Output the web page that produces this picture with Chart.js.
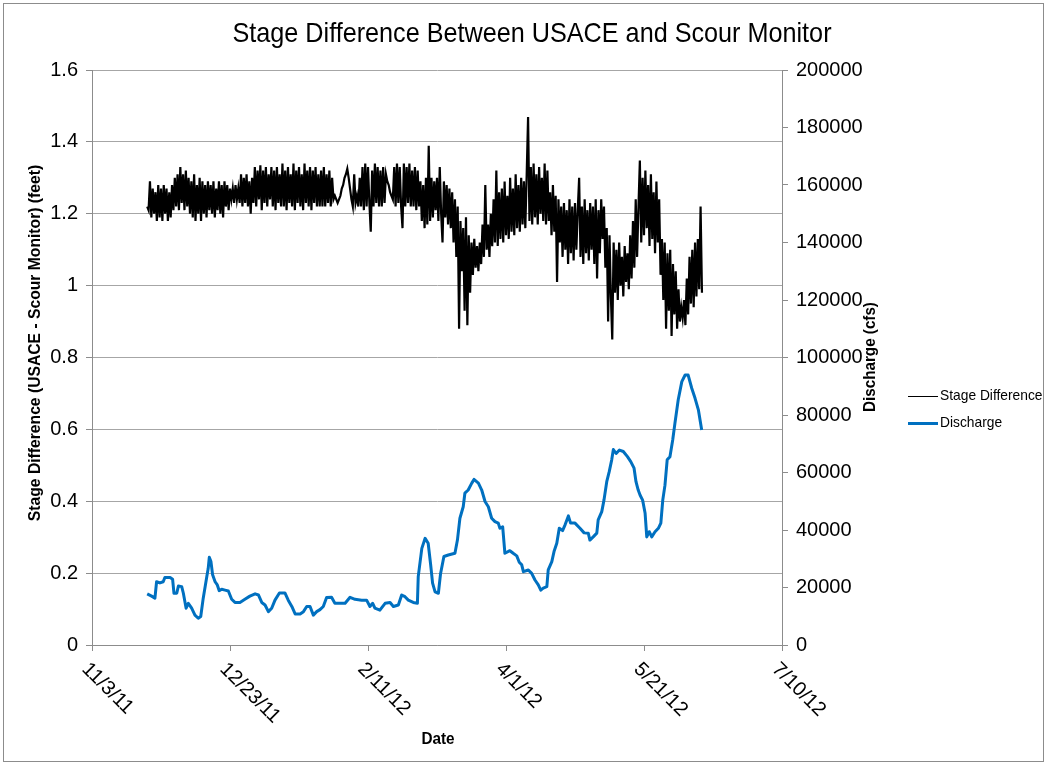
<!DOCTYPE html>
<html>
<head>
<meta charset="utf-8">
<script src="https://cdn.jsdelivr.net/npm/chart.js@4.4.0/dist/chart.umd.min.js"></script>
<style>
  html, body { margin:0; padding:0; background:#fff; }
  #wrap { width:1047px; height:765px; }
</style>
</head>
<body>
<div id="wrap"><canvas id="chart" width="1047" height="765"></canvas></div>
<script>
const TITLE = 'Stage Difference Between USACE and Scour Monitor';
const Y_LEFT_TITLE = 'Stage Difference (USACE - Scour Monitor) (feet)';
const Y_RIGHT_TITLE = 'Discharge (cfs)';
const X_TITLE = 'Date';
const SERIES_NAMES = ['Stage Difference', 'Discharge'];

// x axis = days after 11/3/11
const xTickDays = [0, 50, 100, 150, 200, 250];
const xTickLabels = ['11/3/11', '12/23/11', '2/11/12', '4/1/12', '5/21/12', '7/10/12'];

// stage difference, one reading every half day from day 20
const stageStartDay = 20;
const stageStepDay = 0.5;
const stageFeet = [
  1.22,1.21,1.29,1.19,1.27,1.20,1.26,1.18,1.28,1.19, 1.27,1.18,1.28,1.20,1.27,1.18,1.26,1.19,1.28,1.21,
  1.30,1.22,1.31,1.21,1.33,1.23,1.31,1.21,1.32,1.22, 1.30,1.20,1.29,1.19,1.31,1.18,1.28,1.20,1.30,1.18,
  1.29,1.20,1.28,1.19,1.29,1.21,1.28,1.20,1.29,1.19, 1.27,1.21,1.29,1.20,1.28,1.19,1.29,1.22,1.28,1.21,
  1.27,1.24,1.27,1.23,1.28,1.24,1.27,1.23,1.31,1.22, 1.30,1.23,1.31,1.22,1.29,1.20,1.30,1.23,1.33,1.22,
  1.32,1.24,1.335,1.21,1.32,1.23,1.33,1.22,1.31,1.24, 1.33,1.22,1.32,1.21,1.33,1.23,1.31,1.22,1.34,1.22,
  1.32,1.21,1.33,1.23,1.31,1.22,1.34,1.21,1.32,1.23, 1.33,1.22,1.31,1.21,1.34,1.23,1.32,1.22,1.33,1.21,
  1.32,1.23,1.33,1.22,1.31,1.22,1.32,1.22,1.33,1.22, 1.31,1.23,1.32,1.22,1.30,1.24,1.25,1.24,1.23,1.24,
  1.25,1.27,1.28,1.30,1.31,1.325,1.30,1.27,1.24,1.22, 1.31,1.23,1.25,1.22,1.30,1.22,1.33,1.21,1.34,1.22,
  1.33,1.23,1.15,1.32,1.22,1.34,1.23,1.33,1.22,1.32, 1.22,1.33,1.23,1.31,1.29,1.28,1.26,1.25,1.24,1.33,
  1.22,1.34,1.23,1.33,1.22,1.16,1.34,1.22,1.33,1.23, 1.34,1.22,1.32,1.22,1.33,1.21,1.32,1.22,1.29,1.18,
  1.28,1.16,1.30,1.17,1.389,1.18,1.30,1.19,1.29,1.21, 1.30,1.18,1.33,1.20,1.12,1.29,1.19,1.28,1.17,1.27,
  1.16,1.26,1.12,1.24,1.08,1.22,0.88,1.18,1.04,1.16, 0.93,1.19,0.89,1.14,0.98,1.12,1.03,1.13,1.05,1.11,
  1.04,1.12,1.06,1.17,1.08,1.28,1.10,1.17,1.08,1.20, 1.11,1.24,1.12,1.32,1.11,1.26,1.13,1.27,1.12,1.29,
  1.14,1.25,1.13,1.30,1.15,1.27,1.14,1.31,1.16,1.28, 1.15,1.30,1.17,1.29,1.16,1.31,1.469,1.18,1.33,1.17,
  1.34,1.19,1.31,1.17,1.33,1.20,1.30,1.18,1.34,1.17, 1.32,1.18,1.26,1.14,1.28,1.15,1.25,1.01,1.24,1.12,
  1.22,1.08,1.23,1.10,1.21,1.06,1.24,1.09,1.22,1.07, 1.23,1.10,1.21,1.30,1.08,1.22,1.06,1.24,1.09,1.21,
  1.07,1.23,1.10,1.22,1.06,1.24,1.02,1.21,1.09,1.24, 1.13,1.22,1.05,1.16,0.90,1.14,0.97,0.85,1.12,0.98,
  1.10,0.96,1.12,1.00,1.08,0.97,1.11,1.01,1.09,0.99, 1.14,1.02,1.18,1.05,1.24,1.08,1.22,1.348,1.12,1.30,
  1.14,1.32,1.16,1.28,1.11,1.31,1.13,1.26,1.09,1.29, 1.12,1.24,1.03,1.13,0.96,1.12,0.88,1.09,0.93,1.10,
  0.86,1.06,0.92,1.04,0.88,0.99,0.90,0.94,0.91,0.96, 0.89,1.02,0.92,1.08,0.95,1.10,0.94,1.12,0.97,1.13,
  0.99,1.22,0.98
];

// discharge (cfs), read at the bends of the blue line
const dischargeDay = [
  20.0,21.6,22.8,23.4,24.6,25.8,26.4,28.3,29.2,29.7,30.7,31.3,32.5,33.1,34.1,34.9,36.1,37.3,38.5,39.4,
  40.3,41.6,42.1,42.5,43.1,43.7,44.6,45.4,46.1,47.0,48.2,49.4,50.6,51.8,53.6,55.4,57.2,59.1,60.3,61.5,
  62.7,63.9,65.1,66.3,67.9,69.9,71.1,72.4,73.6,75.4,76.6,77.8,79.0,80.2,81.4,82.6,83.8,85.0,86.8,88.0,
  91.7,93.5,95.3,97.7,99.5,100.7,101.7,102.5,104.3,106.2,108.0,109.2,111.0,112.2,113.4,114.6,116.4,117.9,118.2,119.5,
  120.7,121.8,122.7,123.4,124.3,125.5,126.3,127.5,129.1,131.5,132.4,133.3,134.5,135.1,136.3,137.6,138.4,140.0,141.2,142.4,
  143.6,144.8,146.0,147.2,147.8,148.8,149.6,151.4,152.6,153.9,154.8,155.7,156.3,158.1,159.3,160.5,161.7,162.6,163.5,164.8,
  165.3,166.6,167.4,168.4,169.3,170.5,171.4,172.6,173.4,175.0,176.8,178.3,179.8,180.4,181.6,182.9,183.4,184.7,185.5,186.5,
  187.4,188.3,188.9,189.9,191.1,192.5,194.0,195.2,196.4,197.1,197.9,198.6,199.5,200.4,201.0,201.9,202.8,204.0,205.2,206.1,
  206.8,207.6,208.4,209.4,210.4,211.2,212.4,213.7,214.9,216.0,217.3,218.5,219.7,220.9
];
const dischargeCfs = [
  17800,17000,16300,22000,21600,22000,23500,23500,22900,18000,18000,20500,20300,18000,12800,14500,12800,10400,9300,9900,
  16300,23800,26600,30500,29000,24400,22000,20900,18900,19400,19100,18800,15900,14800,14800,15900,17000,17800,17400,14800,
  13900,11600,12800,15600,18100,18100,15600,13400,10800,10800,11600,13400,13400,10400,11600,12300,13400,16500,16600,14500,
  14500,16600,15900,15600,15600,13400,14500,12800,12100,14500,14800,13400,13900,17400,16800,15600,14800,14500,23800,33600,
  37100,35400,27900,21500,18500,18000,24900,30800,31300,31900,36500,44100,48100,52800,53900,56300,57600,56300,53900,49900,
  48100,44100,42900,42400,40600,41100,31900,32800,31900,31000,28800,27900,25500,26100,24900,22600,20900,19100,19800,20300,
  26100,29000,32500,35400,40600,39800,41800,44900,42400,42400,40600,39000,38900,36500,37600,38900,43500,46400,50400,56800,
  60300,64400,68000,66600,67800,67300,65500,63800,61500,56800,53900,52100,50400,45800,37600,39400,37600,39400,40600,42400,
  50400,55600,64400,65500,71300,77100,85300,91600,93900,93900,89300,85800,81800,74800
];

const COLORS = { stage:'#000000', discharge:'#0070c0', grid:'#a6a6a6', axis:'#8c8c8c' };
const FONT = "'Liberation Sans', Arial, sans-serif";

const stagePts = stageFeet.map((v, i) => ({ x: stageStartDay + i * stageStepDay, y: v }));
const dischargePts = dischargeDay.map((d, i) => ({ x: d, y: dischargeCfs[i] }));

function drawText(ctx, s, x, y, o){
  ctx.save();
  ctx.translate(x, y);
  if(o.rot) ctx.rotate(o.rot);
  if(o.sx) ctx.scale(o.sx, 1);
  ctx.font = o.font;
  ctx.fillStyle = o.color || '#000';
  ctx.textAlign = o.align || 'left';
  ctx.textBaseline = o.base || 'middle';
  ctx.fillText(s, 0, 0);
  ctx.restore();
}

const decor = {
  id:'decor',
  afterDraw(chart){
    const ctx = chart.ctx, xs = chart.scales.x;
    // outer frame
    ctx.save();
    ctx.strokeStyle = '#8c8c8c'; ctx.lineWidth = 1;
    ctx.strokeRect(3.5, 3.5, 1040, 758);
    ctx.restore();
    drawText(ctx, TITLE, 532, 34, { font:'28px ' + FONT, align:'center', sx:0.9 });
    xTickDays.forEach((d, i) => {
      const px = xs.getPixelForValue(d);
      drawText(ctx, xTickLabels[i], px - 7, 666, { font:'20px ' + FONT, rot:Math.PI / 4 });
    });
    drawText(ctx, X_TITLE, 438, 739, { font:'bold 17px ' + FONT, align:'center', sx:0.9 });
    drawText(ctx, Y_LEFT_TITLE, 36, 343, { font:'bold 16px ' + FONT, align:'center', rot:-Math.PI / 2, sx:0.98 });
    drawText(ctx, Y_RIGHT_TITLE, 871, 357, { font:'bold 16px ' + FONT, align:'center', rot:-Math.PI / 2, sx:0.95 });
    // legend
    ctx.save();
    ctx.strokeStyle = COLORS.stage; ctx.lineWidth = 1;
    ctx.beginPath(); ctx.moveTo(908, 396.5); ctx.lineTo(938, 396.5); ctx.stroke();
    ctx.strokeStyle = COLORS.discharge; ctx.lineWidth = 3;
    ctx.beginPath(); ctx.moveTo(908, 423.5); ctx.lineTo(938, 423.5); ctx.stroke();
    ctx.restore();
    drawText(ctx, SERIES_NAMES[0], 940, 396, { font:'15px ' + FONT, sx:0.92 });
    drawText(ctx, SERIES_NAMES[1], 940, 423, { font:'15px ' + FONT, sx:0.92 });
  }
};

new Chart(document.getElementById('chart'), {
  type:'line',
  data:{
    datasets:[
      { label:SERIES_NAMES[0], data:stagePts, yAxisID:'y', borderColor:COLORS.stage, borderWidth:2.2,
        pointRadius:0, tension:0, order:1 },
      { label:SERIES_NAMES[1], data:dischargePts, yAxisID:'y1', borderColor:COLORS.discharge, borderWidth:3,
        pointRadius:0, tension:0, borderJoinStyle:'round', order:2 }
    ]
  },
  options:{
    responsive:false,
    animation:false,
    devicePixelRatio:1,
    layout:{ padding:{ top:70, left:0, right:0, bottom:0 } },
    plugins:{ legend:{ display:false }, tooltip:{ enabled:false }, title:{ display:false } },
    scales:{
      x:{
        type:'linear', min:0, max:250,
        afterFit(s){ s.height = 120; },
        afterBuildTicks(s){ s.ticks = xTickDays.map(v => ({ value:v })); },
        ticks:{ callback:() => '' },
        grid:{ drawOnChartArea:false, drawTicks:true, tickLength:6, color:COLORS.axis },
        border:{ color:COLORS.axis }
      },
      y:{
        position:'left', min:0, max:1.6,
        afterFit(s){ s.width = 92; },
        ticks:{ stepSize:0.2, padding:8, color:'#000', font:{ family:FONT, size:20 },
          callback:v => Number(v.toFixed(1)).toString() },
        grid:{ color:COLORS.grid, tickLength:6, tickColor:COLORS.axis },
        border:{ color:COLORS.axis }
      },
      y1:{
        position:'right', min:0, max:200000,
        afterFit(s){ s.width = 265; },
        ticks:{ stepSize:20000, padding:8, color:'#000', font:{ family:FONT, size:20 },
          callback:v => String(v) },
        grid:{ drawOnChartArea:false, tickLength:6, color:COLORS.axis },
        border:{ color:COLORS.axis }
      }
    }
  },
  plugins:[decor]
});
</script>
</body>
</html>
